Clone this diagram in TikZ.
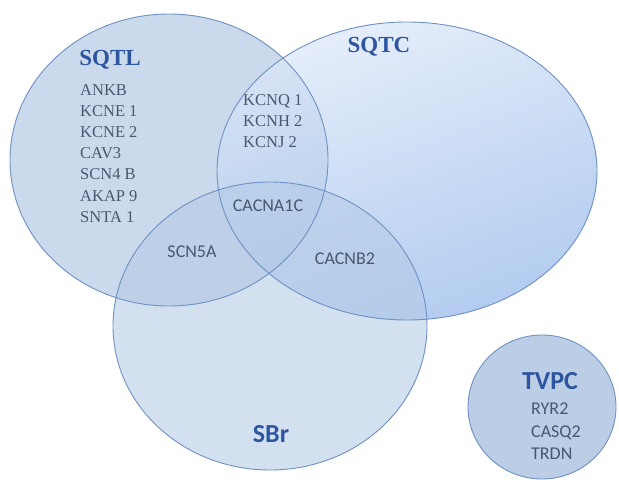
\documentclass[tikz,border=0pt]{standalone}
\usepackage{fontspec}
\setmainfont{Liberation Serif}
\newfontfamily\carl{Carlito}
\usetikzlibrary{shapes.geometric}
\definecolor{edge}{RGB}{110,145,195}
\definecolor{txt}{RGB}{72,88,110}
\definecolor{ttl}{RGB}{46,86,160}
\definecolor{fillA}{RGB}{165,190,222}
\definecolor{fillB}{RGB}{150,185,235}
\definecolor{fillC}{RGB}{180,202,230}
\tikzset{
  setfill/.style={opacity=0.58},
  setedge/.style={draw=edge, line width=0.9pt},
  serlab/.style={text=txt, font=\fontsize{16.5}{21.2}\selectfont, align=left, inner sep=0pt},
  sanslab/.style={text=txt, font=\carl\fontsize{18}{22.5}\selectfont, align=left, inner sep=0pt},
  sertitle/.style={text=ttl, font=\bfseries\fontsize{23}{24}\selectfont, inner sep=0pt},
  sanstitle/.style={text=ttl, font=\carl\bfseries\fontsize{26}{28}\selectfont, inner sep=0pt},
}
\begin{document}
\begin{tikzpicture}[x=1pt,y=-1pt]
\fill[white] (0,0) rectangle (619,484);
\useasboundingbox (0,0) rectangle (619,484);
% fills
\fill[fillA, setfill] (169,160) ellipse [x radius=159, y radius=146];
\begin{scope}
  \clip (407,171) ellipse [x radius=190, y radius=149];
  \shade[top color=fillB!30, bottom color=fillB, shading angle=20, opacity=0.75] (200,15) rectangle (610,330);
\end{scope}
\fill[fillC, setfill] (270,326) ellipse [x radius=157, y radius=144];
\fill[fillA, opacity=0.75] (542,407) ellipse [x radius=74, y radius=72];
% outlines
\draw[setedge] (169,160) ellipse [x radius=159, y radius=146];
\draw[setedge] (407,171) ellipse [x radius=190, y radius=149];
\draw[setedge] (270,326) ellipse [x radius=157, y radius=144];
\draw[setedge] (542,407) ellipse [x radius=74, y radius=72];
% titles
\node[sertitle] (tqtl) at (110,60) {SQTL};
\node[sertitle] (tqtc) at (379,47) {SQTC};
\node[sanstitle] (tbr) at (271,434) {SBr};
\node[sanstitle] (tvpc) at (550,381) {TVPC};
% lists
\node[serlab, anchor=north west] (lqtl) at (80,84) {ANKB\\KCNE 1\\KCNE 2\\CAV3\\SCN4 B\\AKAP 9\\SNTA 1};
\node[serlab, anchor=north west] (lqtc) at (243,94) {KCNQ 1\\KCNH 2\\KCNJ 2};
\node[sanslab] (cac) at (268,206) {CACNA1C};
\node[sanslab] (scn) at (192,252) {SCN5A};
\node[sanslab] (cacb) at (345,259) {CACNB2};
\node[sanslab, anchor=north west] (lvpc) at (531,403) {RYR2\\CASQ2\\TRDN};
\end{tikzpicture}
\end{document}
